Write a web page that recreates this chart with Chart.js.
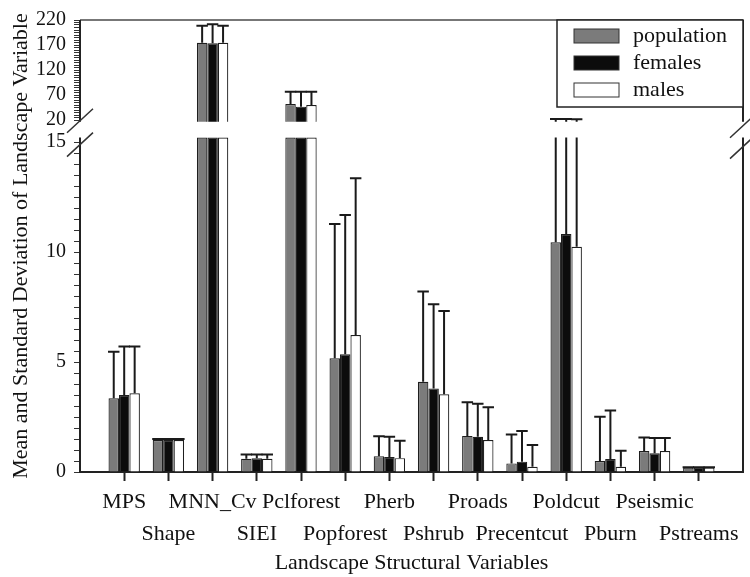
<!DOCTYPE html>
<html>
<head>
<meta charset="utf-8">
<script src="https://cdn.jsdelivr.net/npm/chart.js@4.4.1/dist/chart.umd.min.js"></script>
<style>
    body { margin: 0; background: #fff; }
    #wrap { width: 750px; height: 577px; }
</style>
</head>
<body>
<div id="wrap"><canvas id="chart"></canvas></div>
<script>
const categories = ['MPS', 'Shape', 'MNN_Cv', 'SIEI', 'Pclforest', 'Popforest', 'Pherb',
    'Pshrub', 'Proads', 'Precentcut', 'Poldcut', 'Pburn', 'Pseismic', 'Pstreams'];
const seriesNames = ['population', 'females', 'males'];

const popMean = [3.35, 1.45, 174.5, 0.6, 52, 5.17, 0.72, 4.1, 1.64, 0.39, 10.44, 0.5, 0.95, 0.2];
const popSd = [2.12, 0.05, 34, 0.2, 24.7, 6.1, 0.91, 4.1, 1.53, 1.32, 11.56, 2.01, 0.62, 0.02];
const femMean = [3.5, 1.45, 173.5, 0.62, 46.7, 5.35, 0.68, 3.8, 1.6, 0.47, 10.82, 0.59, 0.85, 0.2];
const femSd = [2.2, 0.05, 38, 0.18, 30, 6.33, 0.92, 3.82, 1.5, 1.39, 11.18, 2.2, 0.7, 0.02];
const maleMean = [3.58, 1.45, 174.5, 0.6, 50, 6.23, 0.63, 3.53, 1.45, 0.24, 10.24, 0.24, 0.95, 0.2];
const maleSd = [2.12, 0.05, 34, 0.2, 26.7, 7.12, 0.79, 3.79, 1.49, 0.99, 11.26, 0.73, 0.6, 0.02];

const lowerTicks = [0, 5, 10, 15];
const upperTicks = [20, 70, 120, 170, 220];

const means = [popMean, femMean, maleMean];
const sds = [popSd, femSd, maleSd];
const fills = ['#7b7b7b', '#0c0c0c', '#ffffff'];

// broken axis: lower panel 0..lowTop, upper panel upMin..220
const lowTop = 15.2;
const upMin = 16.6;
const serif = 'Liberation Serif, Times New Roman, serif';

const datasets = [];
means.forEach((m, s) => {
    const style = {
        label: seriesNames[s],
        stack: 's' + s,
        backgroundColor: fills[s],
        borderColor: '#1e1e1e',
        borderWidth: 1.2,
        barPercentage: 1,
        categoryPercentage: 0.71
    };
    datasets.push(Object.assign({}, style, {
        yAxisID: 'yTop',
        data: m.map((v, i) => ({ x: i + 1, y: v > upMin ? v : null }))
    }));
    datasets.push(Object.assign({}, style, {
        yAxisID: 'yBot',
        data: m.map((v, i) => ({ x: i + 1, y: Math.min(v, lowTop) }))
    }));
});

const errorBars = {
    id: 'errorBars',
    afterDatasetsDraw(chart) {
        const ctx = chart.ctx;
        const yTop = chart.scales.yTop;
        const yBot = chart.scales.yBot;
        ctx.save();
        ctx.strokeStyle = '#1a1a1a';
        ctx.lineWidth = 2;
        means.forEach((m, s) => {
            const meta = chart.getDatasetMeta(s * 2 + 1);
            m.forEach((v, i) => {
                const bar = meta.data[i];
                const x = bar.x;
                const half = bar.width / 2 + 0.5;
                const top = v + sds[s][i];
                ctx.beginPath();
                if (v < lowTop) {
                    ctx.moveTo(x, yBot.getPixelForValue(v));
                    ctx.lineTo(x, yBot.getPixelForValue(Math.min(top, lowTop)));
                }
                if (top > upMin) {
                    ctx.moveTo(x, yTop.getPixelForValue(Math.max(v, upMin)));
                    ctx.lineTo(x, yTop.getPixelForValue(top));
                }
                let capY = null;
                if (top <= lowTop) capY = yBot.getPixelForValue(top);
                else if (top >= upMin) capY = yTop.getPixelForValue(top);
                if (capY !== null) {
                    ctx.moveTo(x - half, capY);
                    ctx.lineTo(x + half, capY);
                }
                ctx.stroke();
            });
        });
        ctx.restore();
    }
};

const frame = {
    id: 'frame',
    afterDraw(chart) {
        const ctx = chart.ctx;
        const area = chart.chartArea;
        const upBottom = chart.scales.yTop.bottom;
        const lowTopPx = chart.scales.yBot.getPixelForValue(lowTop);
        ctx.save();

        // panel outlines
        ctx.lineWidth = 2;
        ctx.strokeStyle = '#777';
        ctx.beginPath();
        ctx.moveTo(area.left, area.top);
        ctx.lineTo(area.right, area.top);
        ctx.stroke();
        ctx.strokeStyle = '#222';
        ctx.beginPath();
        [area.left, area.right].forEach(x => {
            ctx.moveTo(x, area.top);
            ctx.lineTo(x, upBottom);
            ctx.moveTo(x, lowTopPx);
            ctx.lineTo(x, area.bottom);
        });
        ctx.stroke();

        // break marks
        ctx.lineWidth = 1.5;
        ctx.strokeStyle = '#333';
        ctx.beginPath();
        [[area.left, upBottom - 1], [area.left, lowTopPx + 7],
         [area.right, upBottom + 4], [area.right, lowTopPx + 9]].forEach(([x, y]) => {
            ctx.moveTo(x - 13, y + 12);
            ctx.lineTo(x + 13, y - 12);
        });
        ctx.stroke();

        // legend
        const lx = 557, ly = area.top;
        ctx.fillStyle = '#fff';
        ctx.fillRect(lx, ly, area.right - lx, 87);
        ctx.strokeStyle = '#222';
        ctx.lineWidth = 1.5;
        ctx.strokeRect(lx, ly, area.right - lx, 87);
        ctx.font = '22px ' + serif;
        ctx.textBaseline = 'middle';
        seriesNames.forEach((name, s) => {
            const cy = ly + 16 + s * 27;
            ctx.fillStyle = fills[s];
            ctx.fillRect(lx + 17, cy - 7, 45, 14);
            ctx.lineWidth = 1;
            ctx.strokeStyle = '#333';
            ctx.strokeRect(lx + 17, cy - 7, 45, 14);
            ctx.fillStyle = '#111';
            ctx.fillText(name, lx + 76, cy);
        });

        // y title
        ctx.translate(21, (area.top + area.bottom) / 2);
        ctx.rotate(-Math.PI / 2);
        ctx.textAlign = 'center';
        ctx.fillStyle = '#111';
        ctx.font = '22px ' + serif;
        ctx.fillText('Mean and Standard Deviation of Landscape Variable', 0, 0);
        ctx.restore();
    }
};

function yAxis(min, max, step, labels, weight, stackWeight) {
    return {
        type: 'linear',
        position: 'left',
        stack: 'y',
        stackWeight: stackWeight,
        weight: weight,
        stacked: false,
        min: min,
        max: max,
        afterBuildTicks: scale => {
            const ticks = [];
            for (let v = labels[0]; v <= labels[labels.length - 1] + 1e-9; v += step) {
                ticks.push({ value: Math.round(v * 100) / 100 });
            }
            scale.ticks = ticks;
        },
        afterFit: scale => { scale.width = 80; },
        ticks: {
            autoSkip: false,
            padding: 8,
            color: '#111',
            font: { family: serif, size: 20 },
            callback: value => labels.includes(value) ? value : ''
        },
        grid: { drawOnChartArea: false, tickLength: 6, tickColor: '#333', tickWidth: 1 },
        border: { display: false }
    };
}

new Chart(document.getElementById('chart'), {
    type: 'bar',
    data: { datasets: datasets },
    plugins: [errorBars, frame],
    options: {
        responsive: true,
        maintainAspectRatio: false,
        animation: false,
        layout: { padding: { top: 20, right: 7, left: 0, bottom: 0 } },
        plugins: {
            legend: { display: false },
            tooltip: { enabled: false }
        },
        scales: {
            x: {
                type: 'linear',
                min: 0,
                max: categories.length + 1,
                offset: false,
                afterBuildTicks: scale => {
                    scale.ticks = categories.map((c, i) => ({ value: i + 1 }));
                },
                afterFit: scale => { scale.height = 105; },
                ticks: {
                    autoSkip: false,
                    maxRotation: 0,
                    padding: 5,
                    color: '#111',
                    font: { family: serif, size: 22, lineHeight: 1.45 },
                    callback: (value, index) => index % 2 ? ['', categories[index]] : categories[index]
                },
                grid: { drawOnChartArea: false, offset: false, tickLength: 9, tickColor: '#222', tickWidth: 2 },
                border: { color: '#222', width: 2 },
                title: {
                    display: true,
                    text: 'Landscape Structural Variables',
                    color: '#111',
                    font: { family: serif, size: 22 },
                    padding: { top: 0, bottom: 1 }
                }
            },
            yBot: yAxis(0, (452 - 101.7) / 22, 0.5, lowerTicks, 0, 350.3),
            yTop: yAxis(upMin, 220, 5, upperTicks, 1, 101.7)
        }
    }
});
</script>
</body>
</html>
